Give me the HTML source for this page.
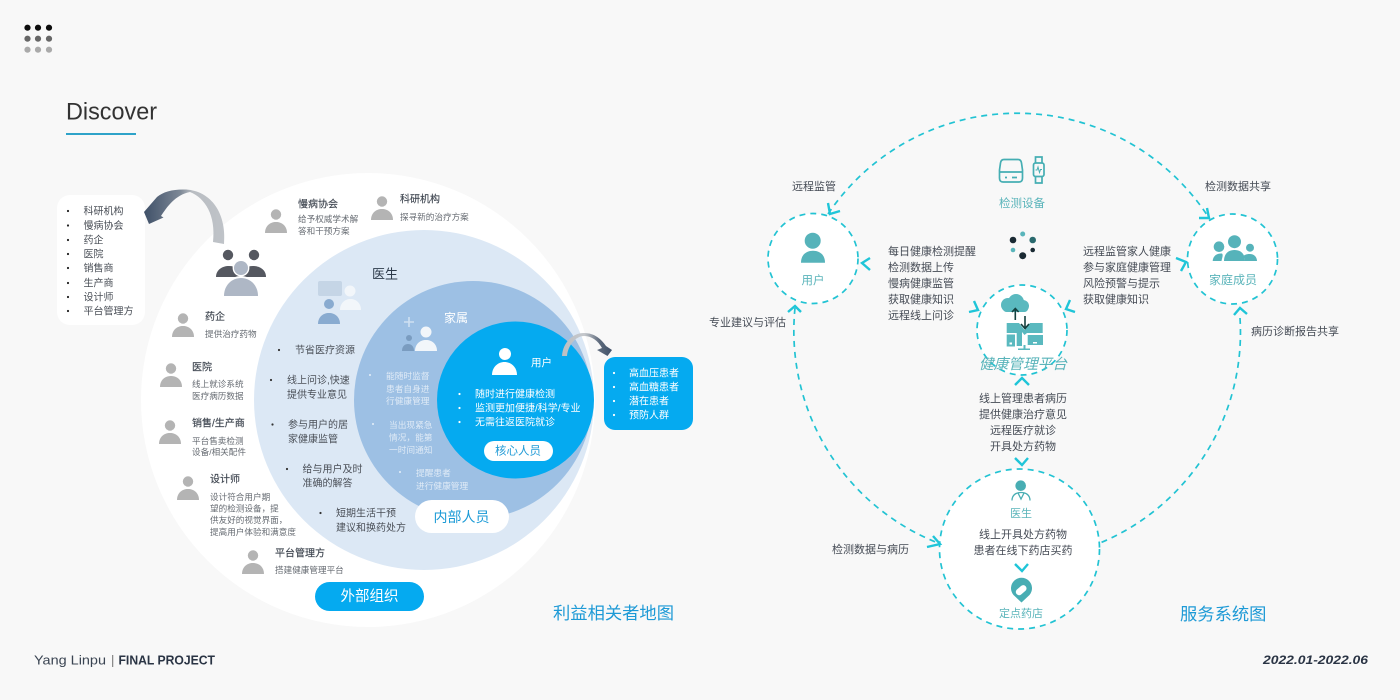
<!DOCTYPE html>
<html lang="zh">
<head>
<meta charset="utf-8">
<title>Discover</title>
<style>
html,body{margin:0;padding:0;background:#f8f8f8;width:1400px;height:700px;overflow:hidden}
svg{display:block}
text{font-family:"Liberation Sans","Noto Sans CJK SC",sans-serif;dominant-baseline:central;transform:translateY(.8px)}
.t{font-size:10px;fill:#3f4650;stroke:#3f4650;stroke-width:.15px}
.d{font-size:8.6px;fill:#666b72}
.l{font-size:10px;fill:#4a4f57}
.w{font-size:10px;fill:#fff}
.f{font-size:8.7px;fill:#dfeaf6}
.s{font-size:11px;fill:#454b55}
.m{text-anchor:middle}
.g{fill:#5ab4ba;text-anchor:middle}
.c{fill:none;stroke:#1fc5d8;stroke-width:2.4}
.dash{fill:none;stroke:#22c3d3;stroke-width:1.7;stroke-dasharray:6 5}
.ring{fill:#fff;stroke:#22c3d3;stroke-width:1.7;stroke-dasharray:6 5}
</style>
</head>
<body>
<svg width="1400" height="700" viewBox="0 0 1400 700" xmlns="http://www.w3.org/2000/svg">
<defs>
<g id="p"><circle cx="0" cy="-18.5" r="5.2"/><path d="M-11,0C-11,-7-6,-11 0,-11C6,-11 11,-7 11,0Z"/></g>
<linearGradient id="ga" x1="0" y1="0" x2="1" y2="0"><stop offset="0" stop-color="#3f5068"/><stop offset=".45" stop-color="#7d8896"/><stop offset=".6" stop-color="#b9bdc2"/><stop offset="1" stop-color="#bfc3c8"/></linearGradient>
<linearGradient id="gb" x1="0" y1="0" x2="1" y2="0"><stop offset="0" stop-color="#bcbfc3"/><stop offset=".45" stop-color="#c5c8cc"/><stop offset=".75" stop-color="#5d6a7c"/><stop offset="1" stop-color="#3f5068"/></linearGradient>
</defs>

<rect width="1400" height="700" fill="#f8f8f8"/>

<!-- logo dots -->
<g fill="#0d0d0d"><circle cx="27.5" cy="27.7" r="3.1"/><circle cx="38" cy="27.7" r="3.1"/><circle cx="49" cy="27.7" r="3.1"/></g>
<g fill="#666"><circle cx="27.5" cy="38.7" r="3.1"/><circle cx="38" cy="38.7" r="3.1"/><circle cx="49" cy="38.7" r="3.1"/></g>
<g fill="#aaa"><circle cx="27.5" cy="49.7" r="3.1"/><circle cx="38" cy="49.7" r="3.1"/><circle cx="49" cy="49.7" r="3.1"/></g>

<text x="66" y="111" font-size="24" fill="#333" textLength="91" lengthAdjust="spacingAndGlyphs">Discover</text>
<rect x="66" y="133" width="70" height="2" fill="#2ea3c9"/>

<!-- stakeholder circles -->
<circle cx="368" cy="400" r="227" fill="#fff"/>
<circle cx="424" cy="400" r="170" fill="#dce8f5"/>
<circle cx="473" cy="400" r="119" fill="#9dc0e4"/>
<circle cx="515.5" cy="400" r="78.5" fill="#05aaf0"/>

<!-- left list -->
<rect x="57" y="195" width="88" height="130" rx="13" fill="#fff"/>
<g fill="#222"><circle cx="68" cy="211" r="1.1"/><circle cx="68" cy="225.5" r="1.1"/><circle cx="68" cy="240" r="1.1"/><circle cx="68" cy="254" r="1.1"/><circle cx="68" cy="268" r="1.1"/><circle cx="68" cy="283" r="1.1"/><circle cx="68" cy="297" r="1.1"/><circle cx="68" cy="311" r="1.1"/></g>
<text class="l" x="83.5" y="211">科研机构</text>
<text class="l" x="83.5" y="225.5">慢病协会</text>
<text class="l" x="83.5" y="240">药企</text>
<text class="l" x="83.5" y="254">医院</text>
<text class="l" x="83.5" y="268">销售商</text>
<text class="l" x="83.5" y="283">生产商</text>
<text class="l" x="83.5" y="297">设计师</text>
<text class="l" x="83.5" y="311">平台管理方</text>

<!-- big arrow -->
<path d="M224,244C227,210 208,189 183,189.5C172,189.5 163,192 157,197L144,212L149,224L163.500,217.500L161,216C167,207 175,195 190,192C205,198 216,215 213,242Z" fill="url(#ga)"/>

<!-- group icon -->
<g fill="#555860">
<circle cx="228" cy="255" r="5.2"/><circle cx="254" cy="255" r="5.2"/>
<path d="M216,277C216,270 222,266 229,266C236,266 240,270 240,277Z"/>
<path d="M242,277C242,270 246,266 253,266C260,266 266,270 266,277Z"/>
</g>
<circle cx="241" cy="268" r="8.4" fill="#fff"/>
<path d="M222,297C222,285 231,276 241,276C251,276 260,285 260,297Z" fill="#fff"/>
<circle cx="241" cy="268" r="7" fill="#aeb7c5"/>
<path d="M224,296C224,285 232,278 241,278C250,278 258,285 258,296Z" fill="#aeb7c5"/>

<!-- grey persons -->
<g fill="#b4b4b4">
<use href="#p" x="276" y="233"/>
<use href="#p" x="382" y="220"/>
<use href="#p" x="183" y="337"/>
<use href="#p" x="171" y="387"/>
<use href="#p" x="170" y="444"/>
<use href="#p" x="188" y="500"/>
<use href="#p" x="253" y="574"/>
</g>

<text class="t" x="298" y="204">慢病协会</text>
<text class="d" x="298" y="218">给予权威学术解</text>
<text class="d" x="298" y="230">答和干预方案</text>
<text class="t" x="400" y="199">科研机构</text>
<text class="d" x="400" y="216">探寻新的治疗方案</text>
<text class="t" x="205" y="316.5">药企</text>
<text class="d" x="205" y="333">提供治疗药物</text>
<text class="t" x="192" y="367">医院</text>
<text class="d" x="192" y="383">线上就诊系统</text>
<text class="d" x="192" y="395">医疗病历数据</text>
<text class="t" x="192" y="423">销售/生产商</text>
<text class="d" x="192" y="440">平台售卖检测</text>
<text class="d" x="192" y="451">设备/相关配件</text>
<text class="t" x="210" y="479">设计师</text>
<text class="d" x="210" y="496">设计符合用户期</text>
<text class="d" x="210" y="507.5">望的检测设备，提</text>
<text class="d" x="210" y="519">供友好的视觉界面，</text>
<text class="d" x="210" y="531">提高用户体验和满意度</text>
<text class="t" x="275" y="553">平台管理方</text>
<text class="d" x="275" y="569">搭建健康管理平台</text>

<!-- 医生 -->
<text x="372" y="273" font-size="13" fill="#2d3a4a">医生</text>
<rect x="318" y="281" width="24" height="15" rx="2" fill="#c5d5e6"/>
<circle cx="350" cy="291" r="5.5" fill="#f2f6fa"/>
<path d="M340,310C340,303 345,299 350.500,299C356,299 361,303 361,310Z" fill="#f2f6fa"/>
<circle cx="329" cy="304" r="5" fill="#89abd0"/>
<path d="M318,324C318,317 323,313 329,313C335,313 340,317 340,324Z" fill="#89abd0"/>
<g fill="#333"><circle cx="279" cy="350" r="1.1"/><circle cx="271" cy="380" r="1.1"/><circle cx="272.500" cy="424.500" r="1.1"/><circle cx="287" cy="469" r="1.1"/><circle cx="320.500" cy="513" r="1.1"/></g>
<text class="l" x="295" y="350">节省医疗资源</text>
<text class="l" x="287" y="380">线上问诊,快速</text>
<text class="l" x="287" y="394.500">提供专业意见</text>
<text class="l" x="288" y="424.500">参与用户的居</text>
<text class="l" x="288" y="439">家健康监管</text>
<text class="l" x="302.500" y="469">给与用户及时</text>
<text class="l" x="302.500" y="483">准确的解答</text>
<text class="l" x="336" y="513">短期生活干预</text>
<text class="l" x="336" y="527.500">建议和换药处方</text>

<!-- 家属 -->
<text x="444" y="317" font-size="12" fill="#fff">家属</text>
<path d="M409,317V327M404,322H414" stroke="#cfe0f2" stroke-width="1.6" fill="none"/>
<circle cx="409" cy="338" r="3" fill="#7a9cc0"/>
<path d="M402,351C402,346 405,344 408,344C411,344 414,346 414,351Z" fill="#7a9cc0"/>
<circle cx="426" cy="332" r="5.5" fill="#f2f6fa"/>
<path d="M415,351C415,344 420,340 426,340C432,340 437,344 437,351Z" fill="#f2f6fa"/>
<g fill="#e6eff9"><circle cx="370" cy="375" r="1"/><circle cx="373" cy="424" r="1"/><circle cx="400" cy="472" r="1"/></g>
<text class="f" x="386" y="375">能随时监督</text>
<text class="f" x="386" y="388">患者自身进</text>
<text class="f" x="386" y="400">行健康管理</text>
<text class="f" x="389" y="424">当出现紧急</text>
<text class="f" x="389" y="436.500">情况，能第</text>
<text class="f" x="389" y="449">一时间通知</text>
<text class="f" x="416" y="472">提醒患者</text>
<text class="f" x="416" y="485">进行健康管理</text>

<!-- 用户 -->
<circle cx="505" cy="354" r="6" fill="#fff"/>
<path d="M492,375C492,367 498,362 504.500,362C511,362 517,367 517,375Z" fill="#fff"/>
<text class="w" x="531" y="362" style="font-size:10.500px">用户</text>
<g fill="#fff"><circle cx="459.500" cy="394" r="1.1"/><circle cx="459.500" cy="408" r="1.1"/><circle cx="459.500" cy="422" r="1.1"/></g>
<text class="w" x="475" y="394">随时进行健康检测</text>
<text class="w" x="475" y="408">监测更加便捷/科学/专业</text>
<text class="w" x="475" y="422">无需往返医院就诊</text>
<rect x="484" y="441" width="69" height="20" rx="10" fill="#fff"/>
<text class="m" x="518" y="450.500" font-size="11.500" fill="#1f9ad6">核心人员</text>

<rect x="415" y="500" width="94" height="33" rx="16.500" fill="#fff"/>
<text class="m" x="461.500" y="516" font-size="14" fill="#1a9ad6">内部人员</text>
<rect x="315" y="582" width="109" height="29" rx="14.500" fill="#05aaf0"/>
<text class="m" x="369.500" y="596" font-size="14.500" fill="#fff">外部组织</text>

<!-- small arrow -->
<path d="M562,356C563,342 573,333 584,333C595,333 602,340 606,346L612,350L607.500,356L597,350L602,348C598,341 592,336 584,336C576,336 568,345 567,356Z" fill="url(#gb)"/>

<!-- right list -->
<rect x="604" y="357" width="89" height="73" rx="11" fill="#05aaf0"/>
<g fill="#fff"><circle cx="614" cy="373" r="1.1"/><circle cx="614" cy="387" r="1.1"/><circle cx="614" cy="401" r="1.1"/><circle cx="614" cy="415" r="1.1"/></g>
<text class="w" x="629" y="373">高血压患者</text>
<text class="w" x="629" y="387">高血糖患者</text>
<text class="w" x="629" y="401">潜在患者</text>
<text class="w" x="629" y="415">预防人群</text>

<text x="553" y="612" font-size="17.300" fill="#1e9ad6">利益相关者地图</text>
<text x="1180" y="613" font-size="17.300" fill="#1e9ad6">服务系统图</text>

<!-- footer -->
<text x="34" y="659" font-size="13" fill="#3a4452" textLength="72" lengthAdjust="spacingAndGlyphs">Yang Linpu</text>
<text x="111" y="659" font-size="13" fill="#777">|</text>
<text x="118.500" y="659" font-size="13" font-weight="bold" fill="#2a3444" textLength="96.500" lengthAdjust="spacingAndGlyphs">FINAL PROJECT</text>
<text x="1263" y="659" font-size="12" font-weight="bold" font-style="italic" fill="#2a3444" textLength="105" lengthAdjust="spacingAndGlyphs">2022.01-2022.06</text>

<!-- service system: big arcs -->
<path class="dash" d="M828,214A228,228 0 0 1 1209,218"/>
<path class="dash" d="M795,308A228,228 0 0 0 938,543"/>
<path class="dash" d="M1240,318A228,228 0 0 1 1100,543"/>

<circle class="ring" cx="813" cy="258.500" r="45"/>
<circle class="ring" cx="1232.500" cy="259" r="45"/>
<circle class="ring" cx="1022" cy="330" r="45"/>
<circle class="ring" cx="1019.500" cy="549" r="80"/>

<!-- chevrons -->
<path class="c" d="M828,203L830,214L840,211"/>
<path class="c" d="M1199,218L1209,218L1207,208"/>
<path class="c" d="M788,312L795,306L801,312"/>
<path class="c" d="M1234,315L1240,308L1247,314"/>
<path class="c" d="M933,536L940,544L927,547"/>
<path class="c" d="M870,258L862,263L870,270"/>
<path class="c" d="M1176,258L1186,262L1181,271"/>
<path class="c" d="M969,312L978,310L974,301"/>
<path class="c" d="M1075,312L1066,309L1070,300"/>
<path class="c" d="M1015,385L1022,378L1029,385"/>
<path class="c" d="M1015,458L1022,465L1028,458"/>
<path class="c" d="M1015,564L1022,571L1028,564"/>

<!-- labels -->
<text class="s" x="792" y="186">远程监管</text>
<text class="s" x="1205" y="186">检测数据共享</text>
<text class="s" x="709" y="322">专业建议与评估</text>
<text class="s" x="1251" y="331">病历诊断报告共享</text>
<text class="s" x="832" y="549">检测数据与病历</text>
<text class="s" x="888" y="251">每日健康检测提醒</text>
<text class="s" x="888" y="267">检测数据上传</text>
<text class="s" x="888" y="283">慢病健康监管</text>
<text class="s" x="888" y="299">获取健康知识</text>
<text class="s" x="888" y="315">远程线上问诊</text>
<text class="s" x="1083" y="251">远程监管家人健康</text>
<text class="s" x="1083" y="267">参与家庭健康管理</text>
<text class="s" x="1083" y="283">风险预警与提示</text>
<text class="s" x="1083" y="299">获取健康知识</text>
<text class="s m" x="1023" y="398">线上管理患者病历</text>
<text class="s m" x="1023" y="414">提供健康治疗意见</text>
<text class="s m" x="1023" y="430">远程医疗就诊</text>
<text class="s m" x="1023" y="446">开具处方药物</text>
<text class="s m" x="1023" y="534">线上开具处方药物</text>
<text class="s m" x="1023" y="550">患者在线下药店买药</text>

<!-- device icons -->
<g fill="none" stroke="#45aeb3" stroke-width="1.700">
<path d="M1004,159.500H1018Q1021,159.500 1021.500,163L1022.500,170V178Q1022.500,182 1019,182H1003Q999.500,182 999.500,178V170L1000.500,163Q1001,159.500 1004,159.500Z"/>
<path d="M999.500,172H1022.500"/>
<path d="M1005,177.500H1007M1012,177.500H1017"/>
<rect x="1033.500" y="163" width="10.500" height="13.500" rx="2"/>
<path d="M1035.500,163V157H1042V163M1035.500,176.500V183H1042V176.500"/>
<path d="M1035.500,170H1037L1038,167L1039.500,172.500L1040.500,169.500H1042" stroke-width="1"/>
</g>
<text class="g" x="1022" y="203" font-size="11.500">检测设备</text>

<!-- dots -->
<circle cx="1022.700" cy="234" r="2.500" fill="#5ab5bb"/>
<circle cx="1013" cy="240" r="3.300" fill="#1a2a33"/>
<circle cx="1032.700" cy="240" r="3.300" fill="#2a6a6e"/>
<circle cx="1013" cy="250" r="2.300" fill="#5ab5bb"/>
<circle cx="1032.700" cy="250" r="2.300" fill="#1a2a33"/>
<circle cx="1022.700" cy="255.700" r="3.500" fill="#1a2a33"/>

<!-- user icon -->
<circle cx="812.700" cy="240.700" r="8" fill="#56b3ba"/>
<path d="M801,262.700C801,255 806,250.700 813,250.700C820,250.700 825,255 825,262.700Z" fill="#56b3ba"/>
<text class="g" x="813" y="280" font-size="11.500">用户</text>

<!-- family icon -->
<g fill="#56b3ba">
<circle cx="1234.500" cy="241.700" r="6.500"/>
<path d="M1224,261C1224,254 1228,250 1234.500,250C1241,250 1245,254 1245,261Z"/>
<circle cx="1219" cy="246.700" r="5.300"/>
<path d="M1212.700,261C1213,256 1217,253 1222,253.500C1223.500,255 1222,258 1221.500,261Z"/>
<circle cx="1250" cy="247.700" r="4"/>
<path d="M1245,261C1245,258 1244,256 1243.500,256C1245,254.500 1247,254 1250,254C1254,254 1257,257 1257,261Z"/>
</g>
<text class="g" x="1233" y="279" font-size="12">家庭成员</text>

<!-- platform icon -->
<g fill="#5ab9bf">
<circle cx="1008" cy="305" r="7"/><circle cx="1016" cy="302" r="8"/><circle cx="1023" cy="306" r="6"/>
<rect x="1003" y="305" width="25" height="7" rx="3.500"/>
<path d="M1006.700,323H1019L1024.500,330L1030,323H1042.700V333H1027L1024.500,335L1022,332V346H1016.700V333H1006.700Z"/>
<rect x="1006.700" y="334.500" width="8.300" height="12"/>
<rect x="1027.700" y="335" width="15.300" height="10"/>
<rect x="1023.500" y="345" width="2" height="4"/>
<rect x="1018" y="348.500" width="12" height="1.500"/>
</g>
<rect x="1009.500" y="342.500" width="2.500" height="2" fill="#fff"/>
<rect x="1033" y="342" width="4" height="1.500" fill="#fff"/>
<g fill="none" stroke="#15403f" stroke-width="1.600">
<path d="M1015.300,320V309M1012,312L1015.300,308.500L1018.600,312"/>
<path d="M1025,316V328M1021,324L1025,328.500L1029,324"/>
</g>
<text class="g" x="1023" y="364" font-size="14.700" font-style="italic" fill="#42b3bb">健康管理平台</text>

<!-- doctor icon -->
<circle cx="1020.700" cy="485.700" r="5.300" fill="#48adb3"/>
<path d="M1012,500.500C1012,495 1016,492.500 1021,492.500C1026,492.500 1030,495 1030,500.500M1018,493L1021,499L1024,493" fill="none" stroke="#48adb3" stroke-width="1.300"/>
<text class="g" x="1021" y="513" font-size="11">医生</text>

<!-- pin icon -->
<path d="M1021.500,602.500L1013.500,595A10.500,10.500 0 1 1 1029.500,595Z" fill="#48adb3"/>
<rect x="1015" y="587" width="12" height="6.500" rx="3.250" fill="#fff" transform="rotate(-40 1021 590)"/>
<text class="g" x="1021" y="613" font-size="11">定点药店</text>
</svg>
</body>
</html>
